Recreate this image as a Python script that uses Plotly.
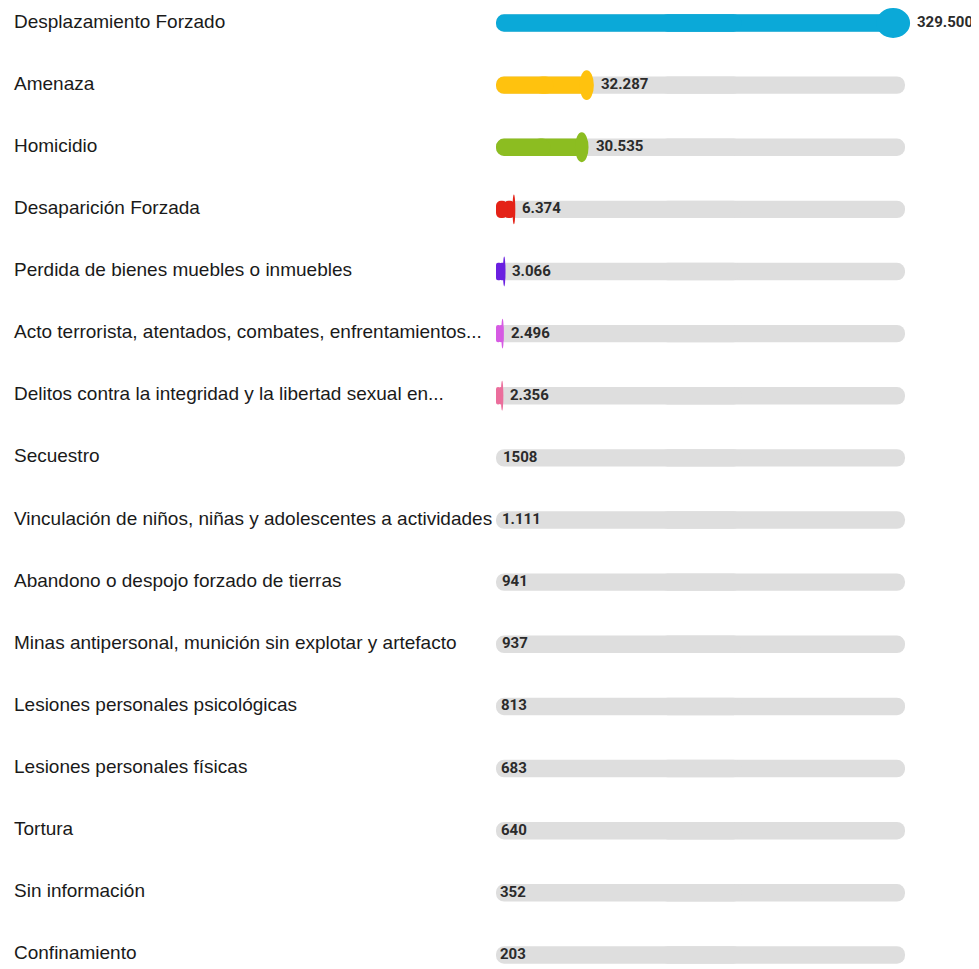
import plotly.graph_objects as go

# victim counts by type of event
categories = [
    "Desplazamiento Forzado",
    "Amenaza",
    "Homicidio",
    "Desaparición Forzada",
    "Perdida de bienes muebles o inmuebles",
    "Acto terrorista, atentados, combates, enfrentamientos...",
    "Delitos contra la integridad y la libertad sexual en...",
    "Secuestro",
    "Vinculación de niños, niñas y adolescentes a actividades",
    "Abandono o despojo forzado de tierras",
    "Minas antipersonal, munición sin explotar y artefacto",
    "Lesiones personales psicológicas",
    "Lesiones personales físicas",
    "Tortura",
    "Sin información",
    "Confinamiento",
]
values = [329500, 32287, 30535, 6374, 3066, 2496, 2356, 1508,
          1111, 941, 937, 813, 683, 640, 352, 203]
value_labels = ["329.500", "32.287", "30.535", "6.374", "3.066", "2.496", "2.356", "1508",
                "1.111", "941", "937", "813", "683", "640", "352", "203"]

TRACK = "#DEDEDE"
# only the top seven rows get a coloured bar
bar_colors = ["#0BA9D8", "#FFC20E", "#8CBD21", "#E42217", "#6A1FE0", "#D65BE3", "#EB6E9C"] + [None] * 9

# the scale tops out here; the first bar is capped at the end of the track
SCALE_MAX = 138000
TRACK_PX = 409
PLOT_PX = 419
px_per_unit = TRACK_PX / SCALE_MAX
x_top = SCALE_MAX * PLOT_PX / TRACK_PX

# page body adds an 8px margin, so the figure is 8px smaller each way
W, H = 971, 961
LEFT = 488
ROW_PX = 62.13
FIRST_ROW = 15

shown = [min(v, SCALE_MAX) for v in values]
ypos = list(range(len(categories)))
n = len(categories)


def pill(vals, colors):
    # floating bars get all corners rounded; two overlapping pieces
    # give one bar rounded at both ends
    out = []
    out.append(go.Bar(
        x=[0.6 * v for v in vals], base=[0.4 * v for v in vals], y=ypos, orientation="h",
        width=0.28, marker=dict(color=colors, cornerradius="50%", line_width=0),
        hoverinfo="skip", showlegend=False,
    ))
    out.append(go.Bar(
        x=[-0.6 * v for v in vals], base=[0.6 * v for v in vals], y=ypos, orientation="h",
        width=0.28, marker=dict(color=colors, cornerradius="50%", line_width=0),
        hoverinfo="skip", showlegend=False,
    ))
    return out


fig = go.Figure()
for tr in pill([SCALE_MAX] * n, [TRACK] * n):
    fig.add_trace(tr)
fill = [c if c else "rgba(0,0,0,0)" for c in bar_colors]
for tr in pill(shown, fill):
    fig.add_trace(tr)

shapes = []
annotations = []
for i, (s, c, lab, cat) in enumerate(zip(shown, bar_colors, value_labels, categories)):
    end = s
    shift = 1
    if c:
        len_px = s * px_per_unit
        w = max(min(0.15 * len_px, 34), 2.5) / px_per_unit
        shapes.append(dict(type="circle", xref="x", yref="y",
                           x0=s - 0.85 * w, x1=s + 0.15 * w, y0=i - 0.24, y1=i + 0.24,
                           fillcolor=c, line_width=0, layer="above"))
        end = s + 0.15 * w
        shift = 5
    annotations.append(dict(x=end, y=i, xref="x", yref="y", text=lab, showarrow=False,
                            xanchor="left", xshift=shift, yshift=1,
                            font=dict(family="Roboto, sans-serif",
                                      size=15, color="#2b2b2b", weight="bold")))
    annotations.append(dict(x=(4 - LEFT) / PLOT_PX, y=i, xref="paper", yref="y", text=cat,
                            showarrow=False, xanchor="left", yshift=2,
                            font=dict(family="Liberation Sans, Arial, sans-serif",
                                      size=19, color="#1a1a1a")))

fig.update_layout(
    width=W, height=H,
    margin=dict(l=LEFT, r=W - LEFT - PLOT_PX, t=0, b=0),
    paper_bgcolor="white", plot_bgcolor="white",
    barmode="overlay",
    shapes=shapes, annotations=annotations,
    xaxis=dict(range=[0, x_top], visible=False, fixedrange=True),
    yaxis=dict(range=[n - 1 + (H - FIRST_ROW - (n - 1) * ROW_PX) / ROW_PX, -FIRST_ROW / ROW_PX],
               visible=False, fixedrange=True),
)

fig.write_html("out.html")
